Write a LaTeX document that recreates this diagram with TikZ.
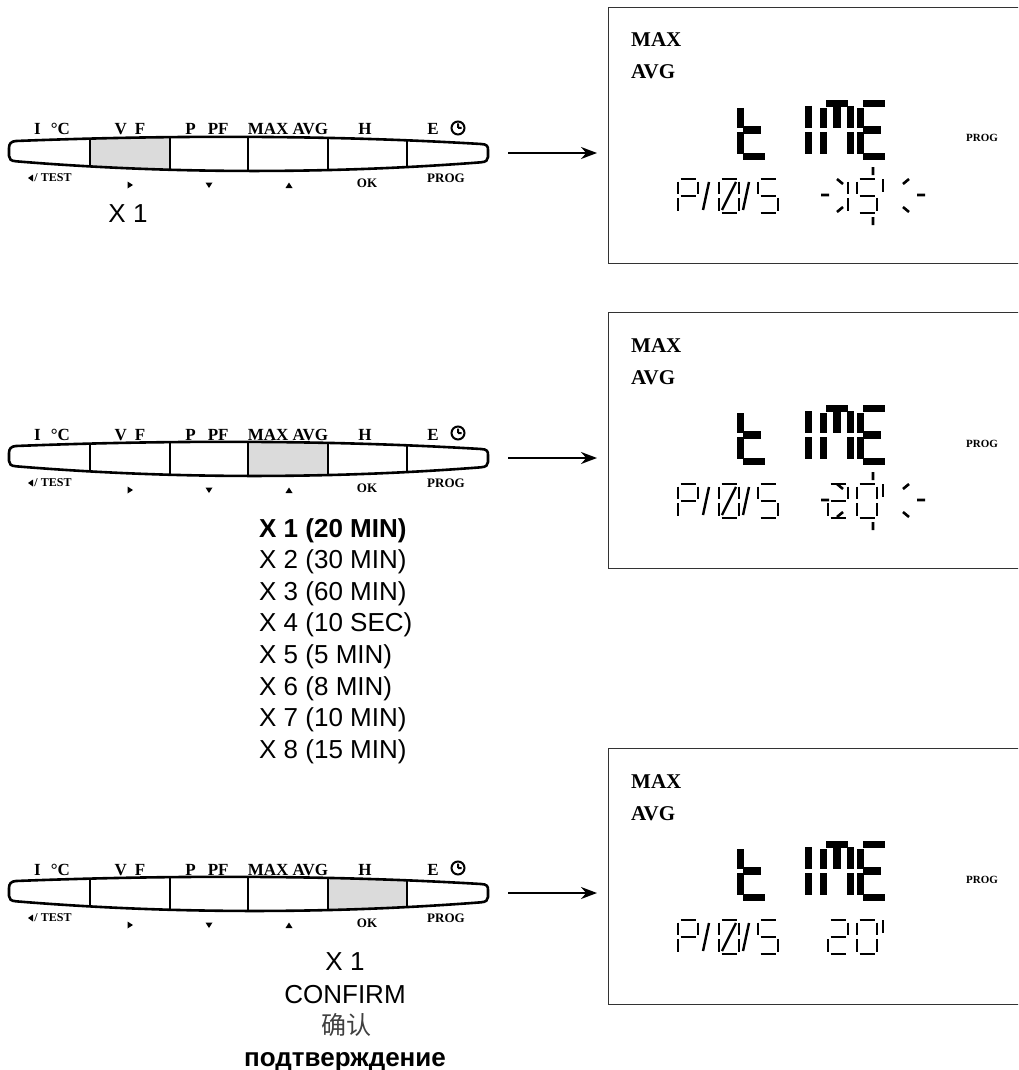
\documentclass[tikz,border=0pt]{standalone}
\usepackage{fontspec}
\setmainfont{Liberation Serif}
\setsansfont{Liberation Sans}
\newfontfamily\cjkfont{Noto Sans CJK SC}
\usetikzlibrary{arrows.meta,positioning}

\newcommand\keybarshape{(16,141) .. controls (170,135) and (330,135) .. (481,144)
  .. controls (487,144.3) and (488,146) .. (488,150) -- (488,157)
  .. controls (488,160) and (486,162) .. (481,162.3)
  .. controls (330,174) and (170,174) .. (16,161.3)
  .. controls (11,161) and (9,159) .. (9,156) -- (9,148)
  .. controls (9,144) and (11,141.2) .. (16,141) -- cycle}

\tikzset{
  keyline/.style={line width=2.6pt},
  keyfill/.style={fill=black!14},
  keylbl/.style={font=\fontsize{17}{19}\selectfont\bfseries, anchor=base, inner sep=0pt},
  keysub/.style={font=\fontsize{13}{15}\selectfont\bfseries, inner sep=0pt},
  tick/.style={fill=black},
  lcdbox/.style={draw=black!80, line width=1.4pt, minimum width=440pt, minimum height=256pt, anchor=north west},
  lcdlbl/.style={font=\fontsize{21}{24}\selectfont\bfseries, anchor=base west, inner sep=0pt},
  bigseg/.style={line width=7.5pt},
  thinseg/.style={line width=2.4pt},
  ray/.style={line width=2.6pt},
  stepnote/.style={font=\sffamily\fontsize{26}{31}\selectfont, inner sep=0pt},
  goarrow/.style={line width=2pt, -{Stealth[length=16pt,width=12pt]}, shorten >=11pt},
  % small segment cell 20 x 34
  pics/sdig/.style={code={
    \foreach \sg in {#1}{
      \ifcase\sg
        \draw[thinseg] (2.5,0) -- (17.5,0);
      \or \draw[thinseg] (20,2.5) -- (20,15);
      \or \draw[thinseg] (20,19) -- (20,31.5);
      \or \draw[thinseg] (2.5,34) -- (17.5,34);
      \or \draw[thinseg] (0,19) -- (0,31.5);
      \or \draw[thinseg] (0,2.5) -- (0,15);
      \or \draw[thinseg] (2.5,17) -- (17.5,17);
      \or \draw[thinseg] (3,31) -- (17,3);
      \or \draw[thinseg] (2,31) -- (8,3);
      \fi}
  }},
  % large segment cell 34 x 60
  pics/bdig/.style={code={
    \foreach \sg in {#1}{
      \ifcase\sg
        \draw[bigseg] (6,3.5) -- (28,3.5);
      \or \draw[bigseg] (30.5,6) -- (30.5,28);
      \or \draw[bigseg] (30.5,32) -- (30.5,54);
      \or \draw[bigseg] (6,56.5) -- (28,56.5);
      \or \draw[bigseg] (3.5,32) -- (3.5,54);
      \or \draw[bigseg] (3.5,8) -- (3.5,28);
      \or \draw[bigseg] (6,30) -- (24,30);
      \or \draw[bigseg] (17,7) -- (17,28);
      \fi}
  }},
  pics/keybar/.style={code={
    \ifcase#1\or\def\kxa{9}\def\kxb{90}\or\def\kxa{90}\def\kxb{170}\or\def\kxa{170}\def\kxb{248}\or\def\kxa{248}\def\kxb{328}\or\def\kxa{328}\def\kxb{407}\or\def\kxa{407}\def\kxb{488}\fi
    \begin{scope}
      \clip \keybarshape;
      \fill[keyfill] (\kxa,130) rectangle (\kxb,178);
      \foreach \kx in {90,170,248,328,407}
        \draw[keyline] (\kx,130) -- (\kx,178);
    \end{scope}
    \draw[keyline, line join=round] \keybarshape;
    \coordinate (-e) at (488,153);
    % labels above the keys
    \node[keylbl] (-t1) at (52,135) {I\hspace{10pt}°C};
    \node[keylbl] (-t2) at (130,135) {V\hspace{8pt}F};
    \node[keylbl] (-t3) at (207,135) {P\hspace{12pt}PF};
    \node[keylbl] (-t4) at (288,135) {MAX\hspace{4pt}AVG};
    \node[keylbl] (-t5) at (365,135) {H};
    \node[keylbl] (-t6) at (433,135) {E};
    \draw[line width=2pt] (458,128) circle (6.5pt) (458,128) -- (458,123.5) (458,128) -- (461.5,128);
    % labels below the keys
    \node[keysub, font=\fontsize{12}{14}\selectfont\bfseries] (-b1) at (53,178) {/ TEST};
    \fill[tick] (28,178) -- (33,174.5) -- (33,181.5) -- cycle;
    \fill[tick] (127.5,181.5) -- (133,185) -- (127.5,188.5) -- cycle;
    \fill[tick] (205.5,182.5) -- (212.5,182.5) -- (209,188) -- cycle;
    \fill[tick] (285.5,188) -- (292.5,188) -- (289,182.5) -- cycle;
    \node[keysub] (-b5) at (367,183) {OK};
    \node[keysub] (-b6) at (446,178) {PROG};
  }},
  pics/lcd/.style={code={
    \node[lcdbox] (-box) at (608,7) {};
    \node[lcdlbl] (-max) at (631,47) {MAX};
    \node[lcdlbl] (-avg) at (631,79) {AVG};
    \node[lcdlbl, font=\fontsize{11}{13}\selectfont\bfseries] (-prog) at (966,142) {PROG};
    % t I M E
    \pic at (737,100) {bdig={5,4,6,3}};
    \pic at (778,100) {bdig={1,2}};
    \pic at (820,100) {bdig={0,1,2,4,5,7}};
    \pic at (857,100) {bdig={0,3,4,5,6}};
    % P / 0 / 5
    \pic at (678,179) {sdig={0,1,4,5,6}};
    \pic at (701,179) {sdig={8}};
    \pic at (719,179) {sdig={0,1,2,3,4,5,7}};
    \pic at (741,179) {sdig={8}};
    \pic at (758,179) {sdig={0,5,6,2,3}};
  }},
}

\begin{document}
\begin{tikzpicture}[x=1pt,y=-1pt]
\useasboundingbox (0,0) rectangle (1018,1070);
\clip (0,0) rectangle (1018,1070);

% key pads
\pic (k1) at (0,0) {keybar=2};
\pic (k2) at (0,305) {keybar=4};
\pic (k3) at (0,740) {keybar=5};

% displays
\pic (l1) at (0,0) {lcd};
\pic (l2) at (0,305) {lcd};
\pic (l3) at (0,741) {lcd};

\draw[goarrow] (k1-e) ++(20,0) coordinate (a1) -- (a1 -| l1-box.west);
\draw[goarrow] (k2-e) ++(20,0) coordinate (a2) -- (a2 -| l2-box.west);
\draw[goarrow] (k3-e) ++(20,0) coordinate (a3) -- (a3 -| l3-box.west);

% blinking minutes, first display
\pic at (828,179) {sdig={1,2}};
\pic at (857,179) {sdig={0,5,6,2,3}};
\draw[thinseg] (883,179) -- (883,192);
\draw[ray] (821,195) -- (829,195) (917,195) -- (925,195)
  (873,167) -- (873,175) (873,217) -- (873,225)
  (837,179) -- (843,184) (837,212) -- (843,207)
  (909,179) -- (903,184) (909,212) -- (903,207);

% blinking minutes, second display
\pic at (828,484) {sdig={0,1,6,4,3}};
\pic at (857,484) {sdig={0,1,2,3,4,5}};
\draw[thinseg] (883,484) -- (883,497);
\draw[ray] (821,500) -- (829,500) (917,500) -- (925,500)
  (873,472) -- (873,480) (873,522) -- (873,530)
  (837,484) -- (843,489) (837,517) -- (843,512)
  (909,484) -- (903,489) (909,517) -- (903,512);

% confirmed minutes, third display
\pic at (828,920) {sdig={0,1,6,4,3}};
\pic at (857,920) {sdig={0,1,2,3,4,5}};
\draw[thinseg] (883,920) -- (883,933);

% presses
\node[stepnote, anchor=base] (n1) at (128,222) {X 1};

\node[stepnote, anchor=base west, font=\sffamily\bfseries\fontsize{26}{31}\selectfont] (x1) at (259,537) {X 1 (20 MIN)};
\node[stepnote, anchor=base west] (x2) at (259,568.6) {X 2 (30 MIN)};
\node[stepnote, anchor=base west] (x3) at (259,600.2) {X 3 (60 MIN)};
\node[stepnote, anchor=base west] (x4) at (259,631.8) {X 4 (10 SEC)};
\node[stepnote, anchor=base west] (x5) at (259,663.4) {X 5 (5 MIN)};
\node[stepnote, anchor=base west] (x6) at (259,695) {X 6 (8 MIN)};
\node[stepnote, anchor=base west] (x7) at (259,726.6) {X 7 (10 MIN)};
\node[stepnote, anchor=base west] (x8) at (259,758.2) {X 8 (15 MIN)};

\node[stepnote, anchor=base] (c1) at (345,970) {X 1};
\node[stepnote, anchor=base] (c2) at (345,1003) {CONFIRM};
\node[stepnote, anchor=base, font=\cjkfont\fontsize{25}{30}\selectfont, text=black!75] (c3) at (346,1034) {确认};
\node[stepnote, anchor=base, font=\sffamily\bfseries\fontsize{26}{31}\selectfont] (c4) at (345,1066) {подтверждение};
\end{tikzpicture}
\end{document}
